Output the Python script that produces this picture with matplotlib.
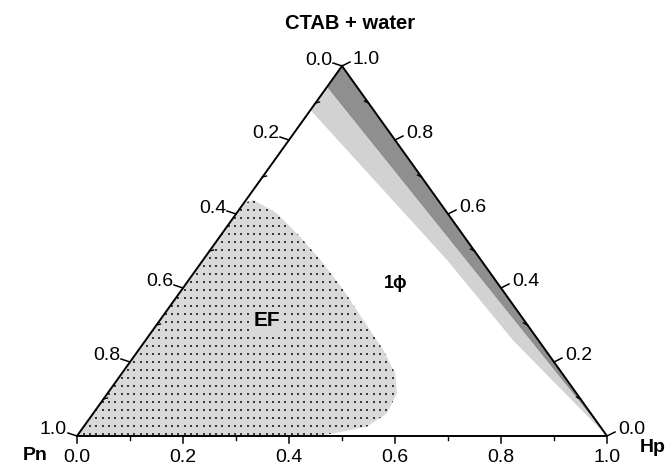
import numpy as np
import matplotlib
matplotlib.use("Agg")
import matplotlib.pyplot as plt
from matplotlib.patches import Polygon

plt.rcParams['font.family'] = ['Liberation Sans', 'DejaVu Sans']

# ternary data: (Hp fraction, CTAB+water fraction); Pn = 1 - Hp - CTAB
ef_hp = [0.0, 0.014, 0.076, 0.151, 0.231, 0.305, 0.383, 0.462, 0.516, 0.546,
         0.554, 0.534, 0.480, 0.452, 0.0]
ef_ctab = [0.630, 0.638, 0.602, 0.539, 0.467, 0.395, 0.314, 0.232, 0.169, 0.115,
           0.061, 0.025, 0.007, 0.0, 0.0]

dark_hp = [0.0, 0.0, 1.0]
dark_ctab = [1.0, 0.943, 0.0]

light_hp = [0.0, 0.0, 0.460, 0.693, 1.0]
light_ctab = [0.943, 0.881, 0.476, 0.259, 0.0]

ticks = [0.0, 0.2, 0.4, 0.6, 0.8, 1.0]
minor = [0.1, 0.3, 0.5, 0.7, 0.9]

W, H = 530.0, 370.0  # triangle size in pixels (for pixel-sized offsets)


def tern(hp, ctab):
    hp = np.asarray(hp, float)
    ctab = np.asarray(ctab, float)
    return hp + ctab / 2.0, ctab


fig = plt.figure(figsize=(6.68, 4.66), dpi=100)
ax = fig.add_axes([77 / 668, 30 / 466, W / 668, H / 466])
ax.set_xlim(0, 1)
ax.set_ylim(0, 1)
ax.axis('off')

# grey bands along the Hp - CTAB edge
x, y = tern(dark_hp, dark_ctab)
ax.add_patch(Polygon(np.column_stack([x, y]), closed=True, fc='#8f8f8f', ec='none'))
x, y = tern(light_hp, light_ctab)
ax.add_patch(Polygon(np.column_stack([x, y]), closed=True, fc='#d2d2d2', ec='none'))

# EF region, grey with dotted texture
x, y = tern(ef_hp, ef_ctab)
ef = Polygon(np.column_stack([x, y]), closed=True, fc='#d9d9d9', ec='none')
ax.add_patch(ef)
gx, gy = np.meshgrid(np.arange(0.5, W, 6.3) / W, np.arange(2, H, 8.0) / H)
dots = ax.scatter(gx.ravel(), gy.ravel(), s=1.4, marker='s', c='#3a3a3a', lw=0)
dots.set_clip_path(ef)

# triangle frame
tx, ty = tern([0, 1, 0, 0], [0, 0, 1, 0])
ax.plot(tx, ty, color='black', lw=1.4, clip_on=False, solid_joinstyle='miter')

px, py = 1 / W, 1 / H
fs = 14
# bottom axis (Hp)
for t in ticks:
    ax.plot([t, t], [0, -7 * py], color='black', lw=1.1, clip_on=False)
    ax.text(t, -22 * py, f'{t:.1f}', ha='center', va='center', fontsize=fs)
for t in minor:
    ax.plot([t, t], [0, -4 * py], color='black', lw=1.0, clip_on=False)

# left axis (Pn, 0 at top)
for t in ticks:
    x0, y0 = tern(0, 1 - t)
    ax.plot([x0, x0 - 9 * px], [y0, y0 + 3 * py], color='black', lw=1.1, clip_on=False)
    ax.text(x0 - 10 * px, y0 + 6 * py, f'{t:.1f}', ha='right', va='center', fontsize=fs)
for t in minor:
    x0, y0 = tern(0, 1 - t)
    ax.plot([x0, x0 + 4 * px], [y0, y0 + 1 * py], color='black', lw=1.0, clip_on=False)

# right axis (CTAB + water)
for t in ticks:
    x0, y0 = tern(1 - t, t)
    ax.plot([x0, x0 + 8 * px], [y0, y0 + 4 * py], color='black', lw=1.1, clip_on=False)
    ax.text(x0 + 11 * px, y0 + 7 * py, f'{t:.1f}', ha='left', va='center', fontsize=fs)
for t in minor:
    x0, y0 = tern(1 - t, t)
    ax.plot([x0, x0 - 4 * px], [y0, y0 + 2 * py], color='black', lw=1.0, clip_on=False)

# vertex and region labels
ax.text(0.515, 1 + 43 * py, 'CTAB + water', ha='center', va='center',
        fontsize=14.5, fontweight='bold')
ax.text(-42 * px, -19 * py, 'Pn', ha='center', va='center', fontsize=14, fontweight='bold')
ax.text(1 + 46 * px, -12 * py, 'Hp', ha='center', va='center', fontsize=14, fontweight='bold')
ax.text(0.359, (436 - 321) / H, 'EF', ha='center', va='center', fontsize=15, fontweight='bold',
        bbox=dict(boxstyle='square,pad=0.05', fc='#d9d9d9', ec='none'))
ax.text(0.602, (436 - 284) / H, '1ϕ', ha='center', va='center', fontsize=13, fontweight='bold')

fig.savefig('out.png', dpi=100)
